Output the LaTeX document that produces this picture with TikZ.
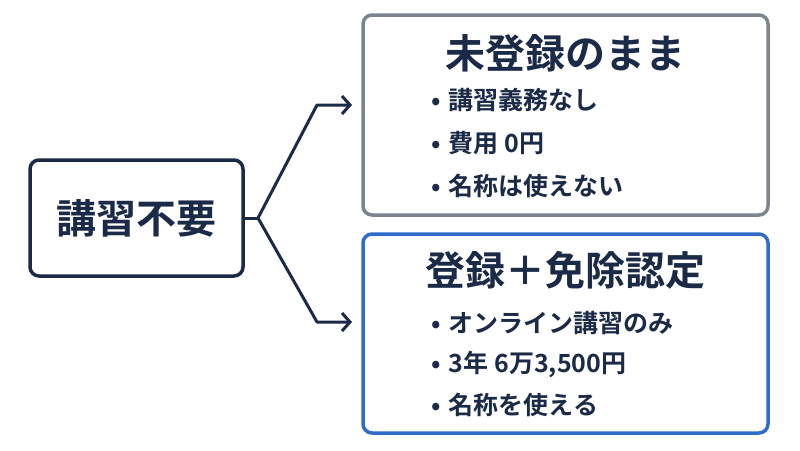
\documentclass[tikz,border=0pt]{standalone}
\usepackage{fontspec}
\setmainfont{Noto Sans CJK JP}[BoldFont={Noto Sans CJK JP Bold}]
\usetikzlibrary{arrows.meta}
\definecolor{navy}{HTML}{1B2A47}
\definecolor{grayb}{HTML}{7D848E}
\definecolor{blueb}{HTML}{2F6BCB}
\begin{document}
\begin{tikzpicture}[x=1pt,y=-1pt,
  box/.style={draw, line width=3.5pt, rounded corners=9pt, fill=white},
  title/.style={text=navy, font=\bfseries\fontsize{40}{44}\selectfont},
  item/.style={text=navy, anchor=west, font=\bfseries\fontsize{25}{28}\selectfont},
  conn/.style={draw=navy, line width=3pt, line join=round},
  tip/.style={-{Straight Barb[length=8pt,width=18pt,line width=3pt]}}]
\useasboundingbox (0,0) rectangle (800,450);
\node[box, draw=navy, minimum width=213, minimum height=116] (L) at (136.5,218) {};
\node[title] (Lt) at (136.5,218) {講習不要};
\node[box, draw=grayb, minimum width=405, minimum height=200] (A) at (565.5,115) {};
\node[box, draw=blueb, minimum width=405, minimum height=199] (B) at (565.5,333.5) {};
\node[title] (At) at (565.5,53) {未登録のまま};
\node[title] (Bt) at (565.5,270) {登録＋免除認定};
\node[item] (a1) at (428,100) {•\hspace{8pt}講習義務なし};
\node[item] (a2) at (428,143) {•\hspace{8pt}費用 0円};
\node[item] (a3) at (428,186) {•\hspace{8pt}名称は使えない};
\node[item] (b1) at (428,323) {•\hspace{8pt}オンライン講習のみ};
\node[item] (b2) at (428,364) {•\hspace{8pt}3年 6万3,500円};
\node[item] (b3) at (428,405) {•\hspace{8pt}名称を使える};
\coordinate (s) at (258,218);
\coordinate (u) at (317,105);
\coordinate (d) at (317,322);
\coordinate (ue) at (352,105);
\coordinate (de) at (352,322);
\draw[conn] (L.east) -- (s);
\draw[conn,tip] (s) -- (u) -- (ue);
\draw[conn,tip] (s) -- (d) -- (de);
\end{tikzpicture}
\end{document}
